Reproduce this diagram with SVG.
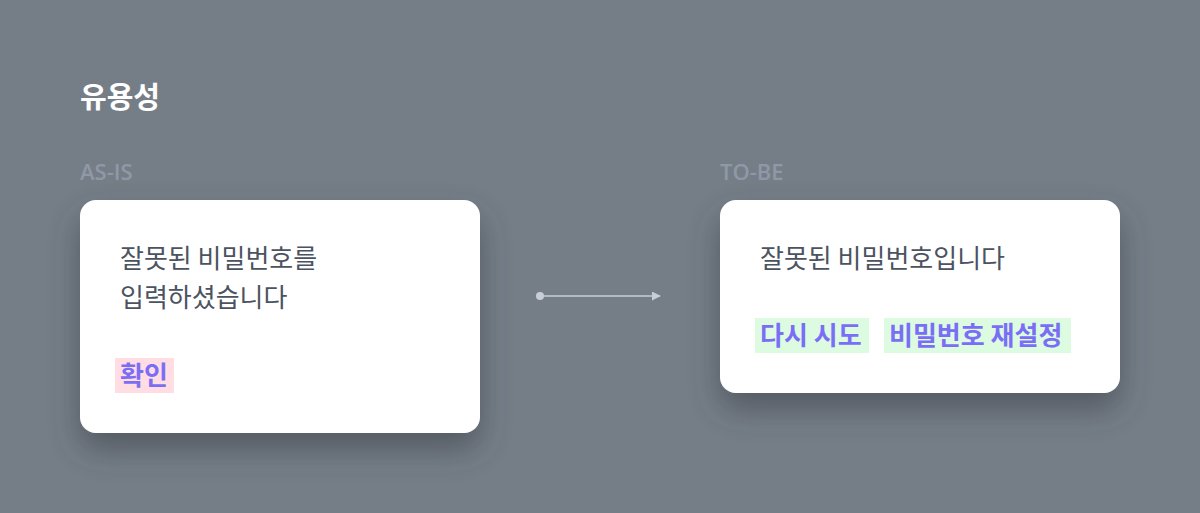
<svg xmlns="http://www.w3.org/2000/svg" width="1200" height="513" viewBox="0 0 1200 513">
<defs>
<filter id="sh" x="-30%" y="-30%" width="160%" height="170%">
<feDropShadow dx="0" dy="16" stdDeviation="16" flood-color="#3a4049" flood-opacity="0.6"/>
</filter>
<marker id="ah" viewBox="0 0 10 10" refX="9" refY="5" markerWidth="9" markerHeight="9" markerUnits="userSpaceOnUse" orient="auto">
<path d="M0,0 L10,5 L0,10 Z" fill="#C9CED6"/>
</marker>
</defs>
<style>
text{font-family:"Noto Sans CJK KR","Noto Sans",sans-serif}
.title{font-size:29px;font-weight:700;fill:#ffffff}
.tag{font-size:22px;font-weight:600;fill:#9098A8;font-family:"Open Sans","Noto Sans",sans-serif}
.card{fill:#ffffff;filter:url(#sh)}
.msg{font-size:26px;fill:#4B5361}
.btn{font-size:26px;font-weight:700;fill:#7B6EF6}
.pink{fill:#FFDDE3}
.green{fill:#DCFBE1}
</style>
<rect width="1200" height="513" fill="#757E87"/>
<text class="title" x="80" y="108">유용성</text>
<g id="asis">
<text class="tag" x="80" y="180">AS-IS</text>
<rect class="card" x="80" y="200" width="400" height="233" rx="16"/>
<text class="msg" x="120" y="268">잘못된 비밀번호를</text>
<text class="msg" x="120" y="307">입력하셨습니다</text>
<rect class="pink" x="115" y="358" width="59" height="35"/>
<text class="btn" x="120" y="385">확인</text>
</g>
<g id="tobe">
<text class="tag" x="720" y="180">TO-BE</text>
<rect class="card" x="720" y="200" width="400" height="193" rx="16"/>
<text class="msg" x="760" y="268">잘못된 비밀번호입니다</text>
<rect class="green" x="755" y="318" width="114" height="35"/>
<text class="btn" x="760" y="345">다시 시도</text>
<rect class="green" x="884" y="318" width="187" height="35"/>
<text class="btn" x="889" y="345">비밀번호 재설정</text>
</g>
<g id="connectors">
<circle cx="540" cy="296" r="4" fill="#C9CED6"/>
<line x1="540" y1="296" x2="660" y2="296" stroke="#C9CED6" stroke-width="1.5" marker-end="url(#ah)"/>
</g>
</svg>
